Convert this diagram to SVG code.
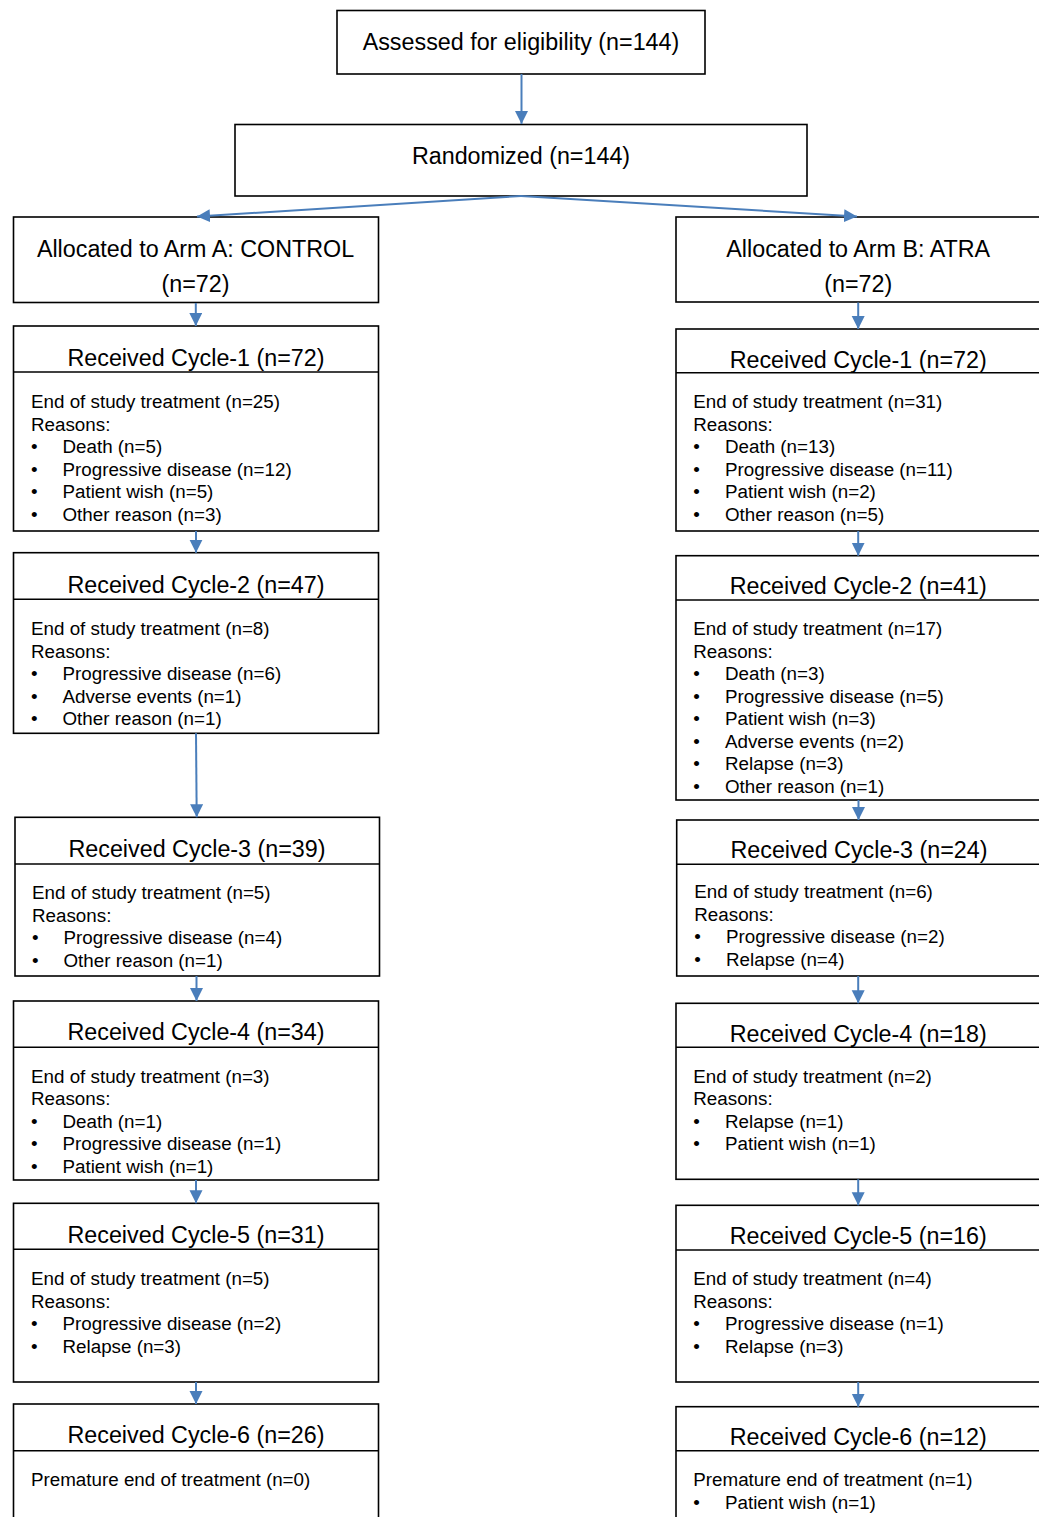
<svg xmlns="http://www.w3.org/2000/svg" width="1039" height="1517" viewBox="0 0 1039 1517">
<style>
.box{fill:#fff;stroke:#000;stroke-width:1.6}
.div{stroke:#000;stroke-width:1.6}
.t{font-family:"Liberation Sans",Arial,sans-serif;font-size:23.3px;fill:#000;text-anchor:middle}
.b{font-family:"Liberation Sans",Arial,sans-serif;font-size:18.8px;fill:#000}
.c{stroke:#4A7EBB;stroke-width:2;fill:none;marker-end:url(#ah)}
</style>
<defs>
<marker id="ah" markerUnits="userSpaceOnUse" markerWidth="14" markerHeight="14" refX="13" refY="6.5" orient="auto">
<path d="M0,0 L13,6.5 L0,13 Z" fill="#4A7EBB"/>
</marker>
</defs>
<rect width="1039" height="1517" fill="#fff"/>

<g id="assessed">
<rect class="box" x="337" y="10.5" width="368" height="63.5"/>
<text class="t" x="521" y="50">Assessed for eligibility (n=144)</text>
</g>
<g id="randomized">
<rect class="box" x="235" y="124.5" width="572" height="71.5"/>
<text class="t" x="521" y="163.5">Randomized (n=144)</text>
</g>
<g id="armA">
<rect class="box" x="13.5" y="217" width="365" height="85.5"/>
<text class="t" x="195.5" y="256.5">Allocated to Arm A: CONTROL</text>
<text class="t" x="195.5" y="292">(n=72)</text>
</g>
<g id="armB">
<rect class="box" x="676" y="217" width="370" height="85"/>
<text class="t" x="858.2" y="256.5">Allocated to Arm B: ATRA</text>
<text class="t" x="858.2" y="292">(n=72)</text>
</g>

<!-- Left column -->
<g id="a_c1">
<rect class="box" x="13.5" y="326" width="365" height="205"/>
<line class="div" x1="13.5" y1="372" x2="378.5" y2="372"/>
<text class="t" x="196" y="365.7">Received Cycle-1 (n=72)</text>
<text class="b" x="31" y="408.3">End of study treatment (n=25)</text>
<text class="b" x="31" y="430.8">Reasons:</text>
<text class="b" x="31" y="453.3">•</text><text class="b" x="62.5" y="453.3">Death (n=5)</text>
<text class="b" x="31" y="475.8">•</text><text class="b" x="62.5" y="475.8">Progressive disease (n=12)</text>
<text class="b" x="31" y="498.3">•</text><text class="b" x="62.5" y="498.3">Patient wish (n=5)</text>
<text class="b" x="31" y="520.8">•</text><text class="b" x="62.5" y="520.8">Other reason (n=3)</text>
</g>
<g id="a_c2">
<rect class="box" x="13.5" y="552.7" width="365" height="180.6"/>
<line class="div" x1="13.5" y1="599.3" x2="378.5" y2="599.3"/>
<text class="t" x="196" y="593.3">Received Cycle-2 (n=47)</text>
<text class="b" x="31" y="635">End of study treatment (n=8)</text>
<text class="b" x="31" y="657.5">Reasons:</text>
<text class="b" x="31" y="680">•</text><text class="b" x="62.5" y="680">Progressive disease (n=6)</text>
<text class="b" x="31" y="702.5">•</text><text class="b" x="62.5" y="702.5">Adverse events (n=1)</text>
<text class="b" x="31" y="725">•</text><text class="b" x="62.5" y="725">Other reason (n=1)</text>
</g>
<g id="a_c3">
<rect class="box" x="15" y="817.3" width="364.5" height="158.7"/>
<line class="div" x1="15" y1="864" x2="379.5" y2="864"/>
<text class="t" x="197" y="856.7">Received Cycle-3 (n=39)</text>
<text class="b" x="32" y="899">End of study treatment (n=5)</text>
<text class="b" x="32" y="921.5">Reasons:</text>
<text class="b" x="32" y="944">•</text><text class="b" x="63.5" y="944">Progressive disease (n=4)</text>
<text class="b" x="32" y="966.5">•</text><text class="b" x="63.5" y="966.5">Other reason (n=1)</text>
</g>
<g id="a_c4">
<rect class="box" x="13.5" y="1001" width="365" height="179"/>
<line class="div" x1="13.5" y1="1047.3" x2="378.5" y2="1047.3"/>
<text class="t" x="196" y="1040">Received Cycle-4 (n=34)</text>
<text class="b" x="31" y="1082.7">End of study treatment (n=3)</text>
<text class="b" x="31" y="1105.2">Reasons:</text>
<text class="b" x="31" y="1127.7">•</text><text class="b" x="62.5" y="1127.7">Death (n=1)</text>
<text class="b" x="31" y="1150.2">•</text><text class="b" x="62.5" y="1150.2">Progressive disease (n=1)</text>
<text class="b" x="31" y="1172.7">•</text><text class="b" x="62.5" y="1172.7">Patient wish (n=1)</text>
</g>
<g id="a_c5">
<rect class="box" x="13.5" y="1203.3" width="365" height="178.7"/>
<line class="div" x1="13.5" y1="1249.3" x2="378.5" y2="1249.3"/>
<text class="t" x="196" y="1242.7">Received Cycle-5 (n=31)</text>
<text class="b" x="31" y="1285">End of study treatment (n=5)</text>
<text class="b" x="31" y="1307.5">Reasons:</text>
<text class="b" x="31" y="1330">•</text><text class="b" x="62.5" y="1330">Progressive disease (n=2)</text>
<text class="b" x="31" y="1352.5">•</text><text class="b" x="62.5" y="1352.5">Relapse (n=3)</text>
</g>
<g id="a_c6">
<rect class="box" x="13.5" y="1404" width="365" height="130"/>
<line class="div" x1="13.5" y1="1450.7" x2="378.5" y2="1450.7"/>
<text class="t" x="196" y="1443.3">Received Cycle-6 (n=26)</text>
<text class="b" x="31" y="1486">Premature end of treatment (n=0)</text>
</g>

<!-- Right column -->
<g id="b_c1">
<rect class="box" x="676" y="329" width="370" height="202"/>
<line class="div" x1="676" y1="372.7" x2="1046" y2="372.7"/>
<text class="t" x="858.2" y="367.7">Received Cycle-1 (n=72)</text>
<text class="b" x="693.3" y="408.3">End of study treatment (n=31)</text>
<text class="b" x="693.3" y="430.8">Reasons:</text>
<text class="b" x="693.3" y="453.3">•</text><text class="b" x="725" y="453.3">Death (n=13)</text>
<text class="b" x="693.3" y="475.8">•</text><text class="b" x="725" y="475.8">Progressive disease (n=11)</text>
<text class="b" x="693.3" y="498.3">•</text><text class="b" x="725" y="498.3">Patient wish (n=2)</text>
<text class="b" x="693.3" y="520.8">•</text><text class="b" x="725" y="520.8">Other reason (n=5)</text>
</g>
<g id="b_c2">
<rect class="box" x="676" y="555.7" width="370" height="244.3"/>
<line class="div" x1="676" y1="600" x2="1046" y2="600"/>
<text class="t" x="858.2" y="594">Received Cycle-2 (n=41)</text>
<text class="b" x="693.3" y="635">End of study treatment (n=17)</text>
<text class="b" x="693.3" y="657.5">Reasons:</text>
<text class="b" x="693.3" y="680">•</text><text class="b" x="725" y="680">Death (n=3)</text>
<text class="b" x="693.3" y="702.5">•</text><text class="b" x="725" y="702.5">Progressive disease (n=5)</text>
<text class="b" x="693.3" y="725">•</text><text class="b" x="725" y="725">Patient wish (n=3)</text>
<text class="b" x="693.3" y="747.5">•</text><text class="b" x="725" y="747.5">Adverse events (n=2)</text>
<text class="b" x="693.3" y="770">•</text><text class="b" x="725" y="770">Relapse (n=3)</text>
<text class="b" x="693.3" y="792.5">•</text><text class="b" x="725" y="792.5">Other reason (n=1)</text>
</g>
<g id="b_c3">
<rect class="box" x="676.7" y="820" width="370" height="156"/>
<line class="div" x1="676.7" y1="864.3" x2="1046" y2="864.3"/>
<text class="t" x="859" y="858.3">Received Cycle-3 (n=24)</text>
<text class="b" x="694.3" y="898.3">End of study treatment (n=6)</text>
<text class="b" x="694.3" y="920.8">Reasons:</text>
<text class="b" x="694.3" y="943.3">•</text><text class="b" x="726" y="943.3">Progressive disease (n=2)</text>
<text class="b" x="694.3" y="965.8">•</text><text class="b" x="726" y="965.8">Relapse (n=4)</text>
</g>
<g id="b_c4">
<rect class="box" x="676" y="1003.3" width="370" height="176"/>
<line class="div" x1="676" y1="1047.3" x2="1046" y2="1047.3"/>
<text class="t" x="858.2" y="1042.3">Received Cycle-4 (n=18)</text>
<text class="b" x="693.3" y="1082.7">End of study treatment (n=2)</text>
<text class="b" x="693.3" y="1105.2">Reasons:</text>
<text class="b" x="693.3" y="1127.7">•</text><text class="b" x="725" y="1127.7">Relapse (n=1)</text>
<text class="b" x="693.3" y="1150.2">•</text><text class="b" x="725" y="1150.2">Patient wish (n=1)</text>
</g>
<g id="b_c5">
<rect class="box" x="676" y="1205.3" width="370" height="176.7"/>
<line class="div" x1="676" y1="1250" x2="1046" y2="1250"/>
<text class="t" x="858.2" y="1244.3">Received Cycle-5 (n=16)</text>
<text class="b" x="693.3" y="1285">End of study treatment (n=4)</text>
<text class="b" x="693.3" y="1307.5">Reasons:</text>
<text class="b" x="693.3" y="1330">•</text><text class="b" x="725" y="1330">Progressive disease (n=1)</text>
<text class="b" x="693.3" y="1352.5">•</text><text class="b" x="725" y="1352.5">Relapse (n=3)</text>
</g>
<g id="b_c6">
<rect class="box" x="676" y="1406.7" width="370" height="130"/>
<line class="div" x1="676" y1="1450.7" x2="1046" y2="1450.7"/>
<text class="t" x="858.2" y="1445">Received Cycle-6 (n=12)</text>
<text class="b" x="693.3" y="1486">Premature end of treatment (n=1)</text>
<text class="b" x="693.3" y="1508.5">•</text><text class="b" x="725" y="1508.5">Patient wish (n=1)</text>
</g>

<g id="connectors">
<line class="c" x1="521.5" y1="74" x2="521.5" y2="124"/>
<line class="c" x1="521" y1="196" x2="197" y2="216.5"/>
<line class="c" x1="521" y1="196" x2="857" y2="216.5"/>
<line class="c" x1="195.8" y1="303" x2="195.8" y2="326"/>
<line class="c" x1="196" y1="531" x2="196" y2="552.7"/>
<line class="c" x1="196" y1="733.3" x2="196.7" y2="817.3"/>
<line class="c" x1="196.5" y1="976" x2="196.5" y2="1001"/>
<line class="c" x1="196" y1="1180" x2="196" y2="1203.3"/>
<line class="c" x1="196" y1="1382" x2="196" y2="1404"/>
<line class="c" x1="858.2" y1="302.5" x2="858.2" y2="329"/>
<line class="c" x1="858.2" y1="531" x2="858.2" y2="555.7"/>
<line class="c" x1="858.5" y1="800" x2="858.5" y2="820"/>
<line class="c" x1="858.2" y1="976" x2="858.2" y2="1003.3"/>
<line class="c" x1="858.2" y1="1179.3" x2="858.2" y2="1205.3"/>
<line class="c" x1="858.2" y1="1382" x2="858.2" y2="1406.7"/>
</g>
</svg>
